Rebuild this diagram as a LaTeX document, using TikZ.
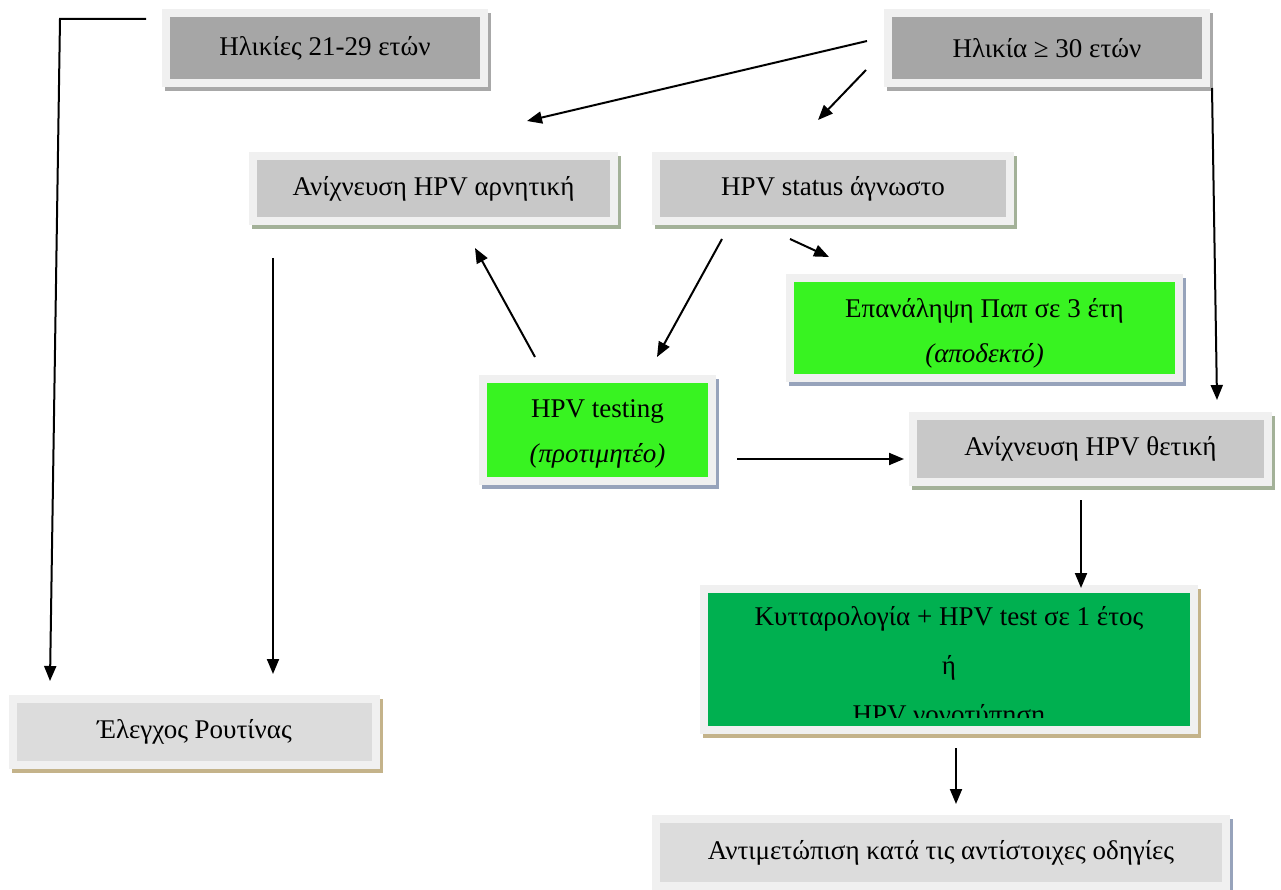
\documentclass[tikz,border=0pt]{standalone}
\usepackage{fontspec}
\setmainfont{Liberation Serif}
\usetikzlibrary{arrows.meta}

\definecolor{framegray}{HTML}{F0F0F0}
\definecolor{fillage}{HTML}{A6A6A6}
\definecolor{fillstep}{HTML}{C8C8C8}
\definecolor{fillend}{HTML}{DCDCDC}
\definecolor{fillgreen}{HTML}{38F321}
\definecolor{filldeep}{HTML}{00B050}
\definecolor{shgray}{HTML}{A8A8A8}
\definecolor{shsage}{HTML}{A3B198}
\definecolor{shblue}{HTML}{97A3BB}
\definecolor{shtan}{HTML}{C4B38A}

\begin{document}
\begin{tikzpicture}[x=1pt,y=-1pt,
  txt/.style={font=\fontsize{27}{45}\selectfont, align=center, inner sep=0pt},
  boxshadow/.style={preaction={fill=#1, draw=#1, line width=16pt,
      transform canvas={shift={(3pt,-4pt)}}}},
  boxframe/.style={preaction={draw=framegray, line width=16pt}},
  box/.style={txt, fill=#1, boxframe},
  conn/.style={line width=2pt, -{Triangle[length=15pt,width=12pt]}}]

\useasboundingbox (0,0) rectangle (1281,890);

% age groups
\node[boxshadow=shgray, box=fillage, minimum width=310pt, minimum height=62pt]
  (young) at (325,48) {Ηλικίες 21-29 ετών};
\node[boxshadow=shgray, box=fillage, minimum width=310pt, minimum height=62pt]
  (older) at (1047,48) {Ηλικία ≥ 30 ετών};

% HPV status boxes
\node[boxshadow=shsage, box=fillstep, minimum width=353pt, minimum height=57pt]
  (neg) at (433.5,188.5) {Ανίχνευση HPV αρνητική};
\node[boxshadow=shsage, box=fillstep, minimum width=346pt, minimum height=57pt]
  (unk) at (833,188.5) {HPV status άγνωστο};
\node[boxshadow=shsage, box=fillstep, minimum width=347pt, minimum height=58pt]
  (pos) at (1090.5,449) {Ανίχνευση HPV θετική};

% options when status is unknown
\node[boxshadow=shblue, box=fillgreen, minimum width=381pt, minimum height=92pt,
  label={[txt, yshift=-5pt]center:{Επανάληψη Παπ σε 3 έτη\\ \itshape (αποδεκτό)}}]
  (pap) at (984.5,328) {};
\node[boxshadow=shblue, box=fillgreen, minimum width=221pt, minimum height=94pt,
  label={[txt, yshift=-4pt]center:{HPV testing\\ \itshape (προτιμητέο)}}]
  (test) at (597.5,430) {};

% follow-up after a positive result (last line is cut off by the text area)
\node[boxshadow=shtan, box=filldeep, minimum width=482pt, minimum height=133pt]
  (cyto) at (949,659.5) {};
\begin{scope}
  \clip (708,593) rectangle (1190,717);
  \node[txt, font=\fontsize{27}{49}\selectfont] (cytotext) at (949,668)
    {Κυτταρολογία + HPV test σε 1 έτος\\ ή\\ HPV γονοτύπηση};
\end{scope}

% outcomes
\node[boxshadow=shtan, box=fillend, minimum width=355pt, minimum height=58pt]
  (routine) at (194.5,732) {Έλεγχος Ρουτίνας};
\node[boxshadow=shblue, box=fillend, minimum width=562pt, minimum height=59pt]
  (treat) at (941,852.5) {Αντιμετώπιση κατά τις αντίστοιχες οδηγίες};

% connector end points
\coordinate (e1a) at (146,19);
\coordinate (e1b) at (60,19);
\coordinate (e1c) at (50,681);
\coordinate (e2a) at (867,41);
\coordinate (e2b) at (527,121);
\coordinate (e3a) at (866,70);
\coordinate (e3b) at (818,120);
\coordinate (e4a) at (1212,88);
\coordinate (e4b) at (1217,400);
\coordinate (e5a) at (722,239);
\coordinate (e5b) at (657,357);
\coordinate (e6a) at (790,239);
\coordinate (e6b) at (829,257);
\coordinate (e7a) at (535,357);
\coordinate (e7b) at (475,248);
\coordinate (e8a) at (273,258);
\coordinate (e8b) at (273,674);
\coordinate (e9a) at (737,459);
\coordinate (e9b) at (904,459);
\coordinate (e10a) at (1081,500);
\coordinate (e10b) at (1081,588);
\coordinate (e11a) at (956,748);
\coordinate (e11b) at (956,804);

% connectors
\draw[conn] (e1a) -- (e1b) -- (e1c);
\draw[conn] (e2a) -- (e2b);
\draw[conn] (e3a) -- (e3b);
\draw[conn] (e4a) -- (e4b);
\draw[conn] (e5a) -- (e5b);
\draw[conn] (e6a) -- (e6b);
\draw[conn] (e7a) -- (e7b);
\draw[conn] (e8a) -- (e8b);
\draw[conn] (e9a) -- (e9b);
\draw[conn] (e10a) -- (e10b);
\draw[conn] (e11a) -- (e11b);
\end{tikzpicture}
\end{document}
